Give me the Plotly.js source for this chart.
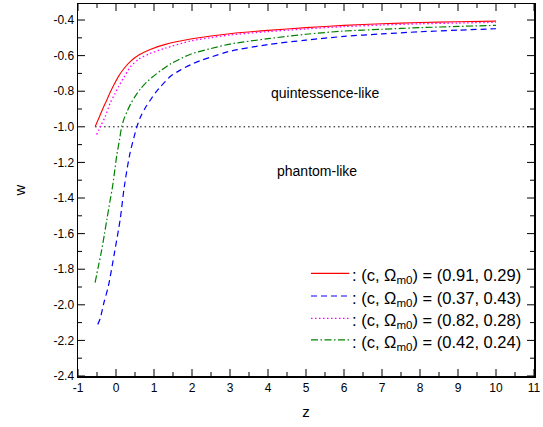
<!DOCTYPE html>
<html>
<head>
<meta charset="utf-8">
<script src="https://cdn.plot.ly/plotly-3.0.1.min.js"></script>
<style>html,body{margin:0;padding:0;background:#fff;}.c{width:543px;height:427px;display:inline-block;}</style>
</head>
<body>
<div id="chart" class="c"></div>
<script>
// Series 1: (c, Ωm0) = (0.91, 0.29)
const zRed = [-0.55, -0.45, -0.35, -0.25, -0.15, -0.05, 0.07, 0.2, 0.38, 0.6, 0.9, 1.3, 1.96, 2.5, 3, 4, 5, 6, 7, 8, 9, 10];
const wRed = [-1.0, -0.95, -0.9, -0.853, -0.805, -0.762, -0.715, -0.675, -0.632, -0.597, -0.565, -0.537, -0.507, -0.49, -0.477, -0.458, -0.443, -0.43, -0.421, -0.414, -0.41, -0.406];
// Series 2: (0.37, 0.43)
const zBlue = [-0.48, -0.42, -0.32, -0.2, -0.04, 0.11, 0.22, 0.37, 0.55, 0.65, 0.78, 0.91, 1.05, 1.17, 1.3, 1.43, 1.7, 1.96, 2.22, 2.49, 2.97, 4, 5, 6, 7, 8, 9, 10];
const wBlue = [-2.11, -2.08, -1.99, -1.894, -1.707, -1.52, -1.334, -1.147, -1.0, -0.942, -0.89, -0.848, -0.805, -0.775, -0.745, -0.717, -0.68, -0.652, -0.628, -0.609, -0.577, -0.538, -0.513, -0.492, -0.478, -0.466, -0.457, -0.449];
// Series 3: (0.82, 0.28)
const zMag = [-0.51, -0.4, -0.28, -0.15, -0.03, 0.074, 0.2, 0.38, 0.6, 0.9, 1.3, 1.96, 2.5, 3, 4, 5, 6, 7, 8, 9, 10];
const wMag = [-1.044, -0.995, -0.94, -0.865, -0.815, -0.772, -0.725, -0.663, -0.62, -0.588, -0.558, -0.518, -0.499, -0.484, -0.465, -0.45, -0.437, -0.428, -0.421, -0.417, -0.413];
// Series 4: (0.42, 0.24)
const zGreen = [-0.55, -0.47, -0.39, -0.31, -0.24, -0.16, -0.09, -0.03, 0.02, 0.09, 0.15, 0.22, 0.3, 0.38, 0.5, 0.65, 0.8, 0.95, 1.2, 1.45, 1.96, 2.5, 3, 4, 5, 6, 7, 8, 9, 10];
const wGreen = [-1.875, -1.79, -1.707, -1.61, -1.52, -1.42, -1.334, -1.24, -1.16, -1.075, -1.0, -0.95, -0.91, -0.874, -0.83, -0.785, -0.75, -0.722, -0.68, -0.645, -0.592, -0.56, -0.535, -0.505, -0.48, -0.462, -0.452, -0.443, -0.436, -0.43];
// reference line w = -1
const zRef = [-0.55, 11];
const wRef = [-1.0, -1.0];

// tick values
const xMajorTicks = [-1, 0, 1, 2, 3, 4, 5, 6, 7, 8, 9, 10, 11];
const xMinorTicks = [-0.5, 0.5, 1.5, 2.5, 3.5, 4.5, 5.5, 6.5, 7.5, 8.5, 9.5, 10.5];
const yMajorTicks = [-2.4, -2.2, -2.0, -1.8, -1.6, -1.4, -1.2, -1.0, -0.8, -0.6, -0.4];
const yMinorTicks = [-2.3, -2.1, -1.9, -1.7, -1.5, -1.3, -1.1, -0.9, -0.7, -0.5];

const legendNames = [
  ": (c, \u03A9<sub>m0</sub>) = (0.91, 0.29)",
  ": (c, \u03A9<sub>m0</sub>) = (0.37, 0.43)",
  ": (c, \u03A9<sub>m0</sub>) = (0.82, 0.28)",
  ": (c, \u03A9<sub>m0</sub>) = (0.42, 0.24)"
];
const regionLabels = ["quintessence-like", "phantom-like"];

const font = "Liberation Sans, Arial, sans-serif";
const colors = ["#FF0000", "#0000FF", "#FF00FF", "#008000"];
const dashes = ["solid", "6px,4px", "1.5px,2.5px", "7px,2.5px,1.5px,2.5px"];
const widths = [1.1, 1.2, 1.3, 1.2];
const zs = [zRed, zBlue, zMag, zGreen];
const ws = [wRed, wBlue, wMag, wGreen];

const xRange = [-1, 11];
const yRange = [-2.4, -0.31];
// plot area in pixels (543 - 77.5 - 9 wide, 427 - 4 - 51 high) -> tick lengths in axis units
const plotW = 543 - 77.5 - 9;
const plotH = 427 - 4 - 51;
const xPerPx = (xRange[1] - xRange[0]) / plotW;
const yPerPx = (yRange[1] - yRange[0]) / plotH;

const traces = [
  {x: zRef, y: wRef, mode: "lines", line: {color: "#000", width: 1, dash: "1.5px,3px"}, showlegend: false}
];
for (let i = 0; i < 4; i++) {
  traces.push({x: zs[i], y: ws[i], mode: "lines", name: legendNames[i], showlegend: false,
    line: {color: colors[i], width: widths[i], dash: dashes[i], shape: "spline", smoothing: 0.8}});
}

const shapes = [];
// inward tick marks on all four sides
function xTick(v, len) {
  const d = len * yPerPx;
  shapes.push({type: "line", xref: "x", yref: "y", x0: v, x1: v, y0: yRange[0], y1: yRange[0] + d, line: {color: "#000", width: 1}});
  shapes.push({type: "line", xref: "x", yref: "y", x0: v, x1: v, y0: yRange[1], y1: yRange[1] - d, line: {color: "#000", width: 1}});
}
function yTick(v, len) {
  const d = len * xPerPx;
  shapes.push({type: "line", xref: "x", yref: "y", y0: v, y1: v, x0: xRange[0], x1: xRange[0] + d, line: {color: "#000", width: 1}});
  shapes.push({type: "line", xref: "x", yref: "y", y0: v, y1: v, x0: xRange[1], x1: xRange[1] - d, line: {color: "#000", width: 1}});
}
xMajorTicks.forEach(v => xTick(v, 7));
xMinorTicks.forEach(v => xTick(v, 4));
yMajorTicks.forEach(v => yTick(v, 7));
yMinorTicks.forEach(v => yTick(v, 4));

// legend drawn as line samples + texts in paper coordinates
const legRowY = [0.276, 0.215, 0.155, 0.097];
const annotations = [
  {x: 5.51, y: -0.81, xref: "x", yref: "y", text: regionLabels[0], showarrow: false, font: {family: font, size: 14, color: "#000"}},
  {x: 5.28, y: -1.25, xref: "x", yref: "y", text: regionLabels[1], showarrow: false, font: {family: font, size: 14, color: "#000"}}
];
for (let i = 0; i < 4; i++) {
  shapes.push({type: "line", xref: "paper", yref: "paper", x0: 0.511, x1: 0.595, y0: legRowY[i], y1: legRowY[i],
    line: {color: colors[i], width: widths[i], dash: dashes[i]}});
  annotations.push({xref: "paper", yref: "paper", x: 0.596, y: legRowY[i], xanchor: "left", yanchor: "middle", yshift: -3,
    text: legendNames[i], showarrow: false, font: {family: font, size: 16.5, color: "#000"}});
}

function axisBase() {
  return {
    showline: true, linecolor: "#000", linewidth: 1.5, mirror: true,
    ticks: "", showgrid: false, zeroline: false
  };
}
const xaxis = axisBase();
Object.assign(xaxis, {
  range: xRange, tickmode: "array", tickvals: xMajorTicks, ticktext: xMajorTicks.map(String),
  tickfont: {family: font, size: 12, color: "#000"},
  title: {text: "z", font: {family: font, size: 15, color: "#000"}, standoff: 12}
});
const yaxis = axisBase();
Object.assign(yaxis, {
  range: yRange, tickmode: "array", tickvals: yMajorTicks, ticktext: yMajorTicks.map(v => v.toFixed(1)),
  tickfont: {family: font, size: 12, color: "#000"},
  title: {text: "w", font: {family: font, size: 15, color: "#000"}, standoff: 24}
});

const layout = {
  width: 543, height: 427,
  margin: {l: 77.5, r: 9, t: 4, b: 51},
  paper_bgcolor: "#fff", plot_bgcolor: "#fff",
  xaxis: xaxis, yaxis: yaxis,
  shapes: shapes,
  annotations: annotations,
  showlegend: false
};

Plotly.newPlot("chart", traces, layout, {staticPlot: true});
</script>
</body>
</html>
